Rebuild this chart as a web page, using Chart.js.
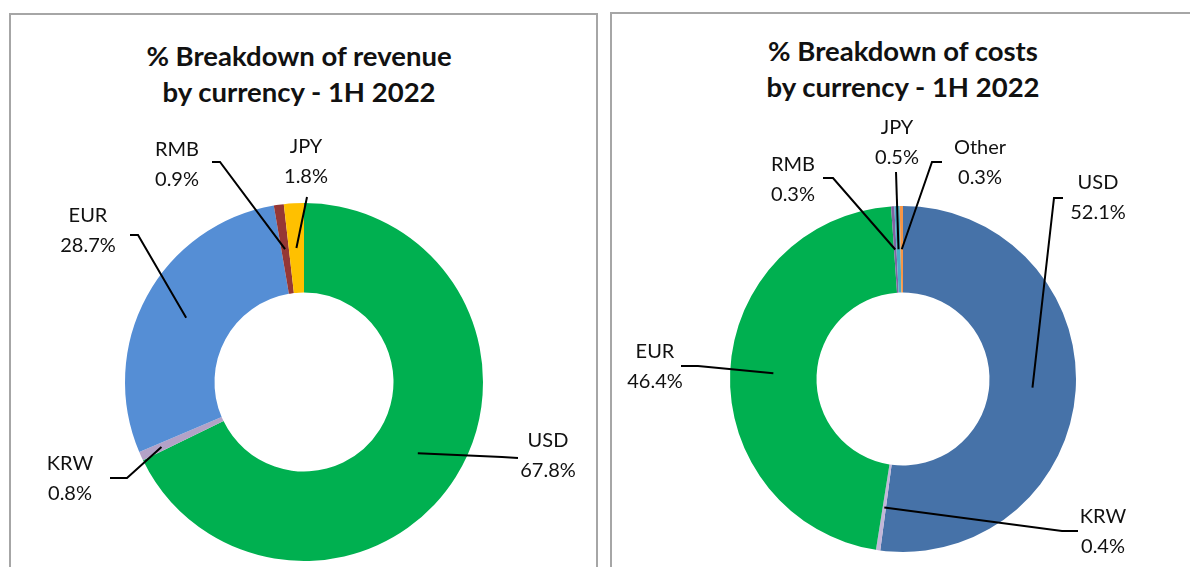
<!DOCTYPE html>
<html>
<head>
<meta charset="utf-8">
<script src="https://cdn.jsdelivr.net/npm/chart.js@4"></script>
<style>
  body { margin: 0; background: #fff; width: 1190px; height: 567px; overflow: hidden; position: relative; font-family: Lato, sans-serif; }
  .panel { position: absolute; border: 2px solid #a6a6a6; box-sizing: border-box; }
  #left-panel { left: 9px; top: 13px; width: 589px; height: 620px; }
  #right-panel { left: 610px; top: 12px; width: 620px; height: 620px; }
  .title { position: absolute; text-align: center; font-weight: bold; font-size: 27.5px; line-height: 36px; color: #111; width: 500px; }
  canvas { position: absolute; top: 0; }
</style>
</head>
<body>
<div class="panel" id="left-panel"></div>
<div class="panel" id="right-panel"></div>
<div class="title" style="left:49px;top:38px">% Breakdown of revenue<br>by currency - 1H 2022</div>
<div class="title" style="left:653px;top:33px">% Breakdown of costs<br>by currency - 1H 2022</div>
<canvas id="revenueChart" width="600" height="567" style="left:0"></canvas>
<canvas id="costsChart" width="590" height="567" style="left:600px"></canvas>
<script>
// revenue by currency, clockwise from 12 o'clock
const revenueLabels = ["USD", "KRW", "EUR", "RMB", "JPY"];
const revenueValues = [67.8, 0.8, 28.7, 0.9, 1.8];
const revenueColors = ["#00b050", "#b3a2c7", "#558ed5", "#953735", "#ffc000"];

// costs by currency, clockwise from 12 o'clock
const costLabels = ["USD", "KRW", "EUR", "RMB", "JPY", "Other"];
const costValues = [52.1, 0.4, 46.4, 0.3, 0.5, 0.3];
const costColors = ["#4672a8", "#c3b6d8", "#00b050", "#8064a2", "#4bacc6", "#f79646"];

// label placement (page coords): text centre x, first line y, leader points, ring fraction
const revenueCallouts = [
  { tx: 548, ty: 441, pts: [[518, 458], [502, 457]], f: 0.5 },
  { tx: 70, ty: 464, pts: [[110, 478], [127, 478]], f: 0.75 },
  { tx: 88, ty: 216, pts: [[130, 235], [138, 235]], f: 0.5 },
  { tx: 177, ty: 150, pts: [[212, 162], [220, 162]], f: 0.5 },
  { tx: 306, ty: 147, pts: [[307, 197]], f: 0.5 },
];
const costCallouts = [
  { tx: 1098, ty: 183, pts: [[1063, 198], [1054, 198]], f: 0.5 },
  { tx: 1103, ty: 517, pts: [[1078, 531], [1062, 531]], f: 0.5 },
  { tx: 655, ty: 352, pts: [[681, 366], [698, 366]], f: 0.5 },
  { tx: 793, ty: 165, pts: [[823, 178], [833, 178]], f: 0.5 },
  { tx: 897, ty: 128, pts: [[896, 172]], f: 0.5 },
  { tx: 980, ty: 148, pts: [[942, 162], [932, 162]], f: 0.5 },
];

const calloutPlugin = {
  id: "callouts",
  afterDatasetsDraw(chart, args, opts) {
    const ctx = chart.ctx;
    const meta = chart.getDatasetMeta(0);
    const values = chart.data.datasets[0].data;
    ctx.save();
    ctx.strokeStyle = "#000";
    ctx.lineWidth = 2;
    ctx.fillStyle = "#111";
    ctx.font = "20px Lato";
    ctx.textAlign = "center";
    ctx.textBaseline = "middle";
    opts.items.forEach((c, i) => {
      const arc = meta.data[i];
      const mid = (arc.startAngle + arc.endAngle) / 2;
      const r = arc.innerRadius + (arc.outerRadius - arc.innerRadius) * c.f;
      const ax = arc.x + Math.cos(mid) * r;
      const ay = arc.y + Math.sin(mid) * r;
      ctx.beginPath();
      c.pts.forEach(([px, py], k) => {
        const x = px - opts.offsetX;
        if (k === 0) ctx.moveTo(x, py); else ctx.lineTo(x, py);
      });
      ctx.lineTo(ax, ay);
      ctx.stroke();
      ctx.fillText(chart.data.labels[i], c.tx - opts.offsetX, c.ty);
      ctx.fillText(values[i].toFixed(1) + "%", c.tx - opts.offsetX, c.ty + 30);
    });
    ctx.restore();
  },
};

function makeDonut(canvasId, labels, values, colors, padding, callouts, offsetX) {
  return new Chart(document.getElementById(canvasId), {
    type: "doughnut",
    data: {
      labels: labels,
      datasets: [{ data: values, backgroundColor: colors, borderWidth: 0 }],
    },
    options: {
      responsive: false,
      animation: false,
      cutout: "50%",
      layout: { padding: padding },
      plugins: {
        legend: { display: false },
        tooltip: { enabled: false },
        callouts: { items: callouts, offsetX: offsetX },
      },
    },
    plugins: [calloutPlugin],
  });
}

makeDonut("revenueChart", revenueLabels, revenueValues, revenueColors,
  { left: 125, right: 117, top: 203, bottom: 6 }, revenueCallouts, 0);
makeDonut("costsChart", costLabels, costValues, costColors,
  { left: 130, right: 114, top: 206, bottom: 15 }, costCallouts, 600);
</script>
</body>
</html>
